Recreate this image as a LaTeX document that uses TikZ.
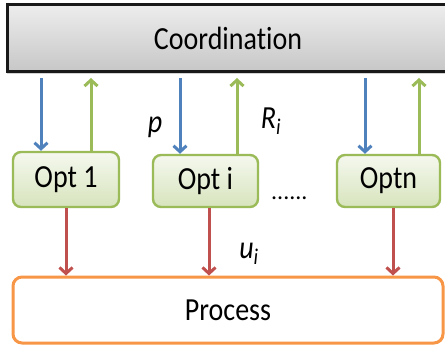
\documentclass[tikz,border=0pt]{standalone}
\usepackage{fontspec}
\setmainfont[Ligatures=NoCommon]{Carlito}
\usepackage{graphicx}
\usepackage{tikz}
\usetikzlibrary{shapes, arrows.meta, positioning, shadows}
\definecolor{pblue}{HTML}{4F81BD}
\definecolor{rgreen}{HTML}{9BBB59}
\definecolor{ured}{HTML}{C0504D}
\definecolor{porange}{HTML}{F79646}
\tikzstyle{coord} = [draw=black!90, line width=3pt, rectangle, top color=black!7, bottom color=black!22,
  drop shadow={shadow xshift=0pt, shadow yshift=-2.5pt, opacity=0.35}]
\tikzstyle{opt} = [draw=rgreen, line width=2.4pt, rectangle, rounded corners=8pt, top color=rgreen!10, bottom color=rgreen!40]
\tikzstyle{proc} = [draw=porange, line width=3pt, rectangle, rounded corners=9pt, fill=white]
\tikzstyle{sig} = [line width=3pt, -{Straight Barb[length=6pt,width=13pt]}]
\newcommand{\lbl}[1]{\scalebox{1}[1.15]{\fontsize{28}{32}\selectfont #1}}

\begin{document}
\begin{tikzpicture}[x=1pt,y=-1pt]
  \useasboundingbox (0,0) rectangle (445,349);
  \node[coord, minimum width=442pt, minimum height=67pt] (Coord) at (228,38) {\lbl{Coordination}};
  \node[proc, minimum width=430pt, minimum height=66pt] (Proc) at (228,310) {\lbl{Process}};
  \node[opt, minimum width=106pt, minimum height=55pt] (Opt1) at (66,179.5) {\lbl{Opt 1}};
  \node[opt, minimum width=105pt, minimum height=52pt] (Opti) at (205.5,181) {\lbl{Opt i}};
  \node[opt, minimum width=103pt, minimum height=52pt] (Optn) at (388.5,181) {\lbl{Optn}};

  \node (p) at (155,127) {\lbl{\itshape p}};
  \node (Ri) at (271,121) {\lbl{\itshape R\textsubscript{i}}};
  \node (ui) at (249,254) {\lbl{\itshape u\textsubscript{i}}};
  \node[anchor=base west, inner sep=0pt] (dots) at (271,199) {\fontsize{24}{28}\selectfont ......};

  % prices down
  \draw[sig, pblue] ([xshift=-25pt,yshift=-5pt]Opt1.north |- Coord.south) -- ([xshift=-25pt]Opt1.north);
  \draw[sig, pblue] ([xshift=-25.5pt,yshift=-5pt]Opti.north |- Coord.south) -- ([xshift=-25.5pt]Opti.north);
  \draw[sig, pblue] ([xshift=-23.5pt,yshift=-5pt]Optn.north |- Coord.south) -- ([xshift=-23.5pt]Optn.north);
  % responses up
  \draw[sig, rgreen] ([xshift=25pt]Opt1.north) -- ([xshift=25pt,yshift=-5pt]Opt1.north |- Coord.south);
  \draw[sig, rgreen] ([xshift=31.5pt]Opti.north) -- ([xshift=31.5pt,yshift=-5pt]Opti.north |- Coord.south);
  \draw[sig, rgreen] ([xshift=30.5pt]Optn.north) -- ([xshift=30.5pt,yshift=-5pt]Optn.north |- Coord.south);
  % inputs to the process
  \draw[sig, ured] (Opt1.south) -- (Opt1.south |- Proc.north);
  \draw[sig, ured] ([xshift=3.5pt]Opti.south) -- ([xshift=3.5pt]Opti.south |- Proc.north);
  \draw[sig, ured] ([xshift=4.5pt]Optn.south) -- ([xshift=4.5pt]Optn.south |- Proc.north);
\end{tikzpicture}
\end{document}
